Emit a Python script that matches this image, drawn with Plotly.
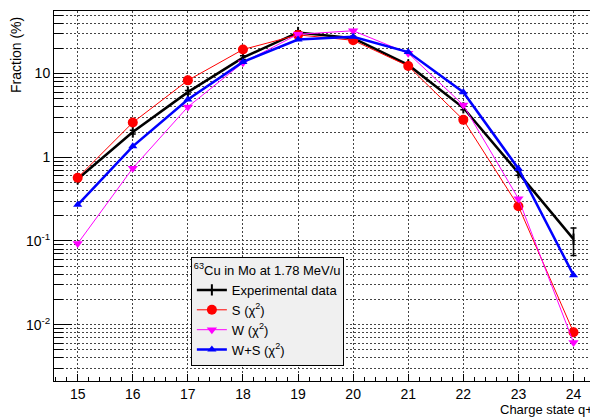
import plotly.graph_objects as go

# ---- data ----
charge_states = [15, 16, 17, 18, 19, 20, 21, 22, 23, 24]
exp_fraction = [0.55, 2.0, 6.0, 15.5, 31.0, 26.5, 12.7, 3.9, 0.65, 0.105]
exp_error = [0.03, 0.1, 0.3, 0.8, 1.6, 1.4, 0.7, 0.2, 0.04, 0.038]
s_fraction = [0.57, 2.6, 8.3, 19.4, 29.0, 25.0, 12.3, 2.8, 0.26, 0.0081]
w_fraction = [0.093, 0.74, 4.0, 13.5, 29.5, 32.5, 17.5, 4.2, 0.32, 0.0061]
ws_fraction = [0.27, 1.35, 4.9, 13.8, 25.5, 27.5, 18.1, 6.0, 0.73, 0.039]

y_decades = [0.01, 0.1, 1, 10]
y_decade_labels = ["10<sup>-2</sup>", "10<sup>-1</sup>", "1", "10"]

FONT = "Liberation Sans, Arial, Helvetica, sans-serif"
GRID = "#444444"
GRID_DASH = "2px,2px"

fig = go.Figure()

fig.add_trace(go.Scatter(
    x=charge_states, y=exp_fraction, mode="lines+markers",
    name="Experimental data",
    line=dict(color="black", width=2.5),
    marker=dict(symbol="line-ns-open", size=8, color="black",
                line=dict(color="black", width=2)),
    error_y=dict(type="data", array=exp_error, color="black",
                 thickness=1.5, width=3),
    legendrank=1,
))
fig.add_trace(go.Scatter(
    x=charge_states, y=s_fraction, mode="lines+markers",
    name="S (χ<sup>2</sup>)",
    line=dict(color="#ff0000", width=1),
    marker=dict(symbol="circle", size=10, color="#ff0000"),
    legendrank=2,
))
fig.add_trace(go.Scatter(
    x=charge_states, y=w_fraction, mode="lines+markers",
    name="W (χ<sup>2</sup>)",
    line=dict(color="#ff00ff", width=1),
    marker=dict(symbol="triangle-down", size=9, color="#ff00ff"),
    legendrank=3,
))
fig.add_trace(go.Scatter(
    x=charge_states, y=ws_fraction, mode="lines+markers",
    name="W+S (χ<sup>2</sup>)",
    line=dict(color="#0000ff", width=2.5),
    marker=dict(symbol="triangle-up", size=8, color="#0000ff"),
    legendrank=4,
))

minor_y = [m * d for d in [0.001, 0.01, 0.1, 1, 10] for m in range(2, 10)]

# the page body adds an 8px offset, so the figure is sized to fit the window
fig.update_layout(
    width=590, height=409,
    margin=dict(l=46, r=3, t=3, b=36, autoexpand=False),
    paper_bgcolor="white", plot_bgcolor="white",
    font=dict(family=FONT, size=14, color="black"),
    showlegend=True,
    legend=dict(
        x=0.253, y=0.335, xanchor="left", yanchor="top",
        bgcolor="#f0f0f0", bordercolor="black", borderwidth=1,
        font=dict(family=FONT, size=13, color="black"),
        title=dict(text="<sup>63</sup>Cu in Mo at 1.78 MeV/u",
                   font=dict(family=FONT, size=13, color="black")),
        traceorder="normal",
        itemwidth=30,
        tracegroupgap=0,
    ),
    xaxis=dict(
        range=[14.57, 24.39], tickmode="linear", tick0=15, dtick=1,
        automargin=False,
        ticks="inside", ticklen=7, tickwidth=1, tickcolor="black",
        showline=True, linecolor="black", linewidth=1, mirror=True,
        showgrid=True, gridcolor=GRID, gridwidth=1, griddash=GRID_DASH,
        zeroline=False,
        tickfont=dict(family=FONT, size=14, color="black"),
        minor=dict(tickmode="linear", tick0=15, dtick=0.2, ticks="inside",
                   ticklen=4, tickcolor="black", showgrid=False),
    ),
    yaxis=dict(
        type="log", range=[-2.674, 1.748],
        automargin=False,
        tickmode="array", tickvals=y_decades, ticktext=y_decade_labels,
        ticks="inside", ticklen=18, tickwidth=1, tickcolor="black",
        showline=True, linecolor="black", linewidth=1, mirror=True,
        showgrid=True, gridcolor=GRID, gridwidth=1, griddash=GRID_DASH,
        zeroline=False,
        tickfont=dict(family=FONT, size=14, color="black"),
        minor=dict(tickmode="array", tickvals=minor_y, ticks="inside",
                   ticklen=9, tickcolor="black", showgrid=True,
                   gridcolor=GRID, gridwidth=1, griddash=GRID_DASH),
    ),
    annotations=[
        dict(text="Fraction (%)", textangle=-90, xref="paper", yref="paper",
             x=0, y=1, xanchor="right", yanchor="top", xshift=-28, yshift=-4,
             showarrow=False, font=dict(family=FONT, size=14, color="black")),
        dict(text="Charge state q+", xref="paper", yref="paper",
             x=1, y=0, xanchor="right", yanchor="top", xshift=0, yshift=-19,
             showarrow=False, font=dict(family=FONT, size=13, color="black")),
    ],
)

fig.write_html("out.html")
